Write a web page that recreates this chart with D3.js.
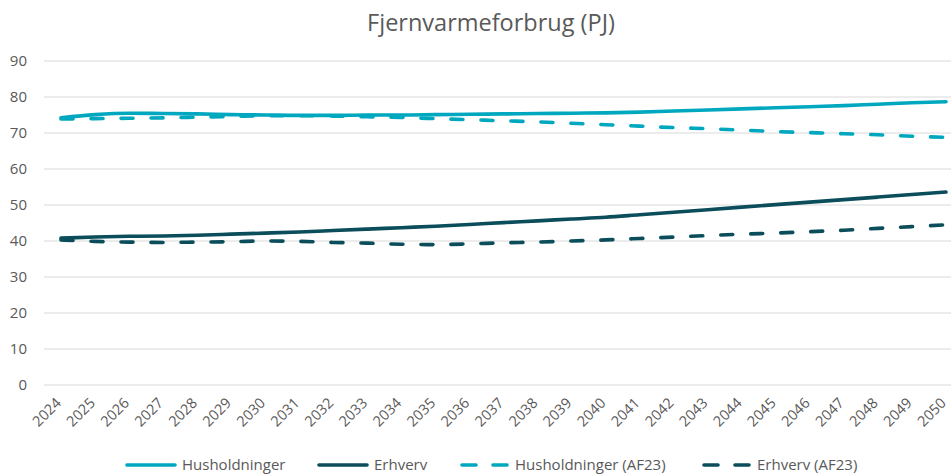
<!DOCTYPE html>
<html>
<head>
<meta charset="utf-8">
<script src="https://cdn.jsdelivr.net/npm/d3@7"></script>
<style>
  html, body { margin: 0; padding: 0; background: #fff; }
  svg { display: block; font-family: "Open Sans", "Noto Sans", sans-serif; }
</style>
</head>
<body>
<svg id="chart" width="951" height="475"></svg>
<script>
const years = ["2024","2025","2026","2027","2028","2029","2030","2031","2032","2033","2034","2035","2036","2037","2038","2039","2040","2041","2042","2043","2044","2045","2046","2047","2048","2049","2050"];
const husholdninger = [74.2,75.1,75.5,75.4,75.3,75.1,75.0,74.9,74.9,75.0,75.0,75.1,75.2,75.3,75.4,75.5,75.6,75.8,76.1,76.4,76.7,77.0,77.3,77.6,78.0,78.4,78.7];
const erhverv = [40.8,41.1,41.3,41.4,41.6,41.9,42.2,42.5,42.9,43.3,43.7,44.1,44.6,45.1,45.6,46.1,46.6,47.3,48.0,48.7,49.4,50.1,50.8,51.5,52.2,52.9,53.6];
const husholdningerAF23 = [73.9,74.0,74.1,74.2,74.4,74.6,74.8,74.8,74.7,74.5,74.3,74.0,73.7,73.4,73.1,72.7,72.3,71.9,71.5,71.2,70.8,70.4,70.1,69.8,69.5,69.1,68.8];
const erhvervAF23 = [40.3,39.9,39.7,39.6,39.7,39.8,40.0,39.9,39.6,39.4,39.1,39.0,39.2,39.5,39.7,40.0,40.3,40.7,41.1,41.5,41.9,42.2,42.6,43.0,43.5,44.0,44.5];
const yTicks = [0,10,20,30,40,50,60,70,80,90];
const title = "Fjernvarmeforbrug (PJ)";

const seriesList = [
  { name: "Husholdninger", values: husholdninger, color: "#00A8BF", dash: null },
  { name: "Erhverv", values: erhverv, color: "#0B4D5A", dash: null },
  { name: "Husholdninger (AF23)", values: husholdningerAF23, color: "#00A8BF", dash: "12,18" },
  { name: "Erhverv (AF23)", values: erhvervAF23, color: "#0B4D5A", dash: "12,18" }
];

const svg = d3.select("#chart");
const plotLeft = 44, plotRight = 963, plotTop = 61, plotBottom = 385;

const x = d3.scaleBand().domain(years).range([plotLeft, plotRight]);
const y = d3.scaleLinear().domain([0, 90]).range([plotBottom, plotTop]);
const cx = d => x(d) + x.bandwidth() / 2;

// title
svg.append("text")
  .attr("x", 491).attr("y", 31)
  .attr("text-anchor", "middle")
  .attr("font-size", 23.5)
  .attr("fill", "#595959")
  .text(title);

// gridlines
svg.append("g").selectAll("line").data(yTicks).join("line")
  .attr("x1", plotLeft).attr("x2", 951)
  .attr("y1", d => y(d)).attr("y2", d => y(d))
  .attr("stroke", "#d9d9d9").attr("stroke-width", 1.2);

// y axis labels
const yAxis = d3.axisLeft(y).tickValues(yTicks).tickSize(0).tickPadding(0);
const yg = svg.append("g").attr("transform", `translate(${plotLeft - 17},0)`).call(yAxis);
yg.select(".domain").remove();
yg.selectAll("text").attr("font-size", 15).attr("fill", "#595959")
  .attr("font-family", "'Open Sans', 'Noto Sans', sans-serif");

// x axis labels
const xAxis = d3.axisBottom(x).tickSize(0).tickPadding(0);
const xg = svg.append("g").attr("transform", `translate(0,${plotBottom})`).call(xAxis);
xg.select(".domain").remove();
xg.selectAll("text")
  .attr("font-size", 14.5)
  .attr("fill", "#595959")
  .attr("font-family", "'Open Sans', 'Noto Sans', sans-serif")
  .attr("text-anchor", "end")
  .attr("dy", null)
  .attr("y", 0)
  .attr("transform", "translate(1,19) rotate(-45)");

// lines
const line = d3.line().x((d, i) => cx(years[i])).y(d => y(d)).curve(d3.curveMonotoneX);
svg.append("g").selectAll("path").data(seriesList).join("path")
  .attr("d", d => line(d.values))
  .attr("fill", "none")
  .attr("stroke", d => d.color)
  .attr("stroke-width", 3.6)
  .attr("stroke-linecap", "round")
  .attr("stroke-linejoin", "round")
  .attr("stroke-dasharray", d => d.dash);

// legend
const legendX = [125, 317, 460, 702];
const lg = svg.append("g").selectAll("g").data(seriesList).join("g")
  .attr("transform", (d, i) => `translate(${legendX[i]},465)`);
lg.append("line")
  .attr("x1", 2).attr("x2", 50).attr("y1", 0).attr("y2", 0)
  .attr("stroke", d => d.color)
  .attr("stroke-width", 3.6)
  .attr("stroke-linecap", "round")
  .attr("stroke-dasharray", d => d.dash ? "14,17" : null);
lg.append("text")
  .attr("x", (d, i) => i >= 2 ? 55 : 57).attr("y", 5)
  .attr("font-size", 15)
  .attr("fill", "#595959")
  .text(d => d.name);
</script>
</body>
</html>
